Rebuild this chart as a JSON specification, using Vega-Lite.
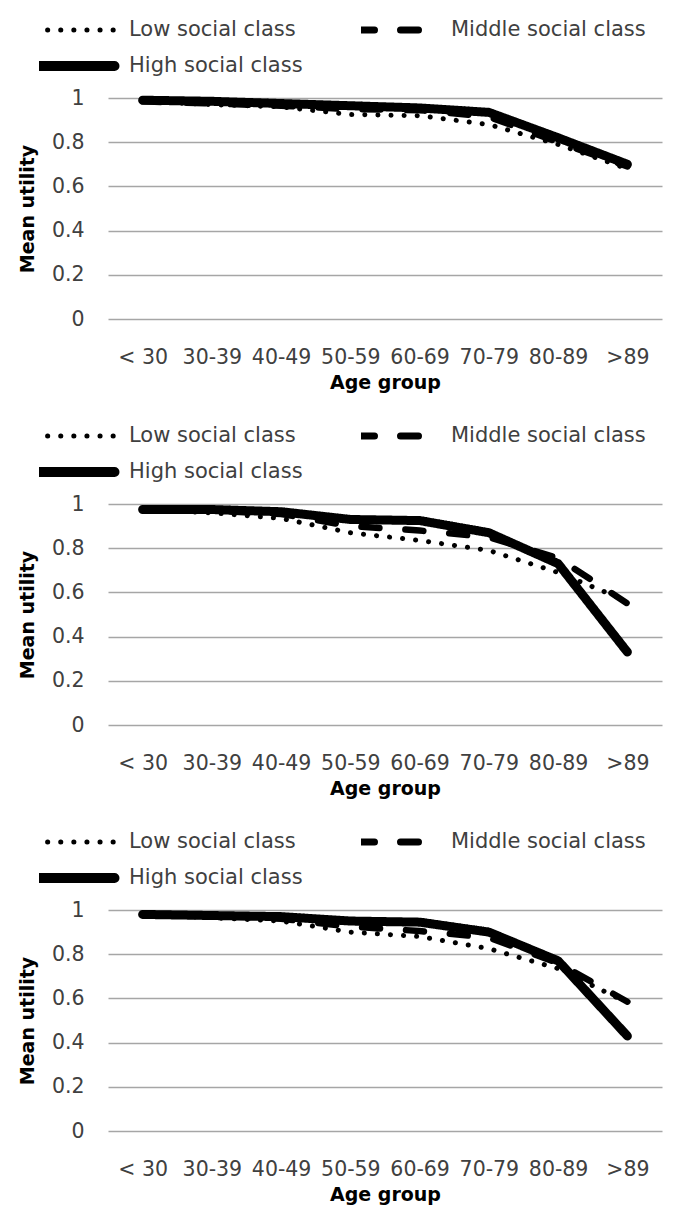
{
  "$schema": "https://vega.github.io/schema/vega-lite/v6.json",
  "padding": {"left": 18, "top": 18, "right": 5, "bottom": 5},
  "background": "white",
  "datasets": {
    "p1": [
      {"age": "< 30", "class": "Low social class", "utility": 0.985},
      {"age": "30-39", "class": "Low social class", "utility": 0.97},
      {"age": "40-49", "class": "Low social class", "utility": 0.96},
      {"age": "50-59", "class": "Low social class", "utility": 0.925},
      {"age": "60-69", "class": "Low social class", "utility": 0.92},
      {"age": "70-79", "class": "Low social class", "utility": 0.88},
      {"age": "80-89", "class": "Low social class", "utility": 0.79},
      {"age": ">89", "class": "Low social class", "utility": 0.68},
      {"age": "< 30", "class": "Middle social class", "utility": 0.985},
      {"age": "30-39", "class": "Middle social class", "utility": 0.975},
      {"age": "40-49", "class": "Middle social class", "utility": 0.965},
      {"age": "50-59", "class": "Middle social class", "utility": 0.95},
      {"age": "60-69", "class": "Middle social class", "utility": 0.945},
      {"age": "70-79", "class": "Middle social class", "utility": 0.915},
      {"age": "80-89", "class": "Middle social class", "utility": 0.8},
      {"age": ">89", "class": "Middle social class", "utility": 0.69},
      {"age": "< 30", "class": "High social class", "utility": 0.99},
      {"age": "30-39", "class": "High social class", "utility": 0.985},
      {"age": "40-49", "class": "High social class", "utility": 0.975},
      {"age": "50-59", "class": "High social class", "utility": 0.965},
      {"age": "60-69", "class": "High social class", "utility": 0.955},
      {"age": "70-79", "class": "High social class", "utility": 0.935},
      {"age": "80-89", "class": "High social class", "utility": 0.82},
      {"age": ">89", "class": "High social class", "utility": 0.7}
    ],
    "p2": [
      {"age": "< 30", "class": "Low social class", "utility": 0.975},
      {"age": "30-39", "class": "Low social class", "utility": 0.96},
      {"age": "40-49", "class": "Low social class", "utility": 0.935},
      {"age": "50-59", "class": "Low social class", "utility": 0.87},
      {"age": "60-69", "class": "Low social class", "utility": 0.835},
      {"age": "70-79", "class": "Low social class", "utility": 0.79},
      {"age": "80-89", "class": "Low social class", "utility": 0.69},
      {"age": ">89", "class": "Low social class", "utility": 0.56},
      {"age": "< 30", "class": "Middle social class", "utility": 0.975},
      {"age": "30-39", "class": "Middle social class", "utility": 0.97},
      {"age": "40-49", "class": "Middle social class", "utility": 0.955},
      {"age": "50-59", "class": "Middle social class", "utility": 0.9},
      {"age": "60-69", "class": "Middle social class", "utility": 0.88},
      {"age": "70-79", "class": "Middle social class", "utility": 0.85},
      {"age": "80-89", "class": "Middle social class", "utility": 0.755},
      {"age": ">89", "class": "Middle social class", "utility": 0.55},
      {"age": "< 30", "class": "High social class", "utility": 0.975},
      {"age": "30-39", "class": "High social class", "utility": 0.975},
      {"age": "40-49", "class": "High social class", "utility": 0.965},
      {"age": "50-59", "class": "High social class", "utility": 0.93},
      {"age": "60-69", "class": "High social class", "utility": 0.925},
      {"age": "70-79", "class": "High social class", "utility": 0.87},
      {"age": "80-89", "class": "High social class", "utility": 0.73},
      {"age": ">89", "class": "High social class", "utility": 0.33}
    ],
    "p3": [
      {"age": "< 30", "class": "Low social class", "utility": 0.98},
      {"age": "30-39", "class": "Low social class", "utility": 0.965},
      {"age": "40-49", "class": "Low social class", "utility": 0.95},
      {"age": "50-59", "class": "Low social class", "utility": 0.9},
      {"age": "60-69", "class": "Low social class", "utility": 0.88},
      {"age": "70-79", "class": "Low social class", "utility": 0.825},
      {"age": "80-89", "class": "Low social class", "utility": 0.735},
      {"age": ">89", "class": "Low social class", "utility": 0.58},
      {"age": "< 30", "class": "Middle social class", "utility": 0.98},
      {"age": "30-39", "class": "Middle social class", "utility": 0.975},
      {"age": "40-49", "class": "Middle social class", "utility": 0.96},
      {"age": "50-59", "class": "Middle social class", "utility": 0.925},
      {"age": "60-69", "class": "Middle social class", "utility": 0.905},
      {"age": "70-79", "class": "Middle social class", "utility": 0.875},
      {"age": "80-89", "class": "Middle social class", "utility": 0.76},
      {"age": ">89", "class": "Middle social class", "utility": 0.585},
      {"age": "< 30", "class": "High social class", "utility": 0.98},
      {"age": "30-39", "class": "High social class", "utility": 0.975},
      {"age": "40-49", "class": "High social class", "utility": 0.97},
      {"age": "50-59", "class": "High social class", "utility": 0.95},
      {"age": "60-69", "class": "High social class", "utility": 0.945},
      {"age": "70-79", "class": "High social class", "utility": 0.9},
      {"age": "80-89", "class": "High social class", "utility": 0.77},
      {"age": ">89", "class": "High social class", "utility": 0.43}
    ]
  },
  "spacing": 31,
  "vconcat": [
    {
      "width": 554, "height": 221,
      "data": {"name": "p1"},
      "mark": {"type": "line", "color": "black", "strokeCap": "round", "strokeJoin": "round"},
      "encoding": {
        "x": {"field": "age", "type": "ordinal", "sort": ["< 30", "30-39", "40-49", "50-59", "60-69", "70-79", "80-89", ">89"], "scale": {"type": "point", "padding": 0.5}, "axis": {"title": "Age group", "labelAngle": 0, "labelPadding": 28, "titlePadding": 6, "grid": false}},
        "y": {"field": "utility", "type": "quantitative", "scale": {"domain": [0, 1], "nice": false, "zero": true}, "axis": {"title": "Mean utility", "values": [0, 0.2, 0.4, 0.6, 0.8, 1], "format": "~g", "labelPadding": 24, "titlePadding": 14}},
        "strokeDash": {"field": "class", "type": "nominal", "scale": {"domain": ["Low social class", "Middle social class", "High social class"], "range": [[0.1, 13], [18, 26], [1, 0]]},
          "legend": {"title": null, "orient": "none", "legendX": -69, "legendY": -80, "columns": 2, "values": ["Low social class", "High social class", "Middle social class"],
            "encode": {"symbols": {"update": {"strokeCap": {"value": "round"}, "strokeWidth": {"signal": "datum.value === 'High social class' ? 10 : datum.value === 'Middle social class' ? 7 : 5"}}}}}},
        "strokeWidth": {"condition": [{"test": "datum['class'] === 'High social class'", "value": 9}, {"test": "datum['class'] === 'Middle social class'", "value": 6.5}], "value": 5}
      }
    },
    {
      "width": 554, "height": 221,
      "data": {"name": "p2"},
      "mark": {"type": "line", "color": "black", "strokeCap": "round", "strokeJoin": "round"},
      "encoding": {
        "x": {"field": "age", "type": "ordinal", "sort": ["< 30", "30-39", "40-49", "50-59", "60-69", "70-79", "80-89", ">89"], "scale": {"type": "point", "padding": 0.5}, "axis": {"title": "Age group", "labelAngle": 0, "labelPadding": 28, "titlePadding": 6, "grid": false}},
        "y": {"field": "utility", "type": "quantitative", "scale": {"domain": [0, 1], "nice": false, "zero": true}, "axis": {"title": "Mean utility", "values": [0, 0.2, 0.4, 0.6, 0.8, 1], "format": "~g", "labelPadding": 24, "titlePadding": 14}},
        "strokeDash": {"field": "class", "type": "nominal", "scale": {"domain": ["Low social class", "Middle social class", "High social class"], "range": [[0.1, 13], [18, 26], [1, 0]]},
          "legend": {"title": null, "orient": "none", "legendX": -69, "legendY": -80, "columns": 2, "values": ["Low social class", "High social class", "Middle social class"],
            "encode": {"symbols": {"update": {"strokeCap": {"value": "round"}, "strokeWidth": {"signal": "datum.value === 'High social class' ? 10 : datum.value === 'Middle social class' ? 7 : 5"}}}}}},
        "strokeWidth": {"condition": [{"test": "datum['class'] === 'High social class'", "value": 9}, {"test": "datum['class'] === 'Middle social class'", "value": 6.5}], "value": 5}
      }
    },
    {
      "width": 554, "height": 221,
      "data": {"name": "p3"},
      "mark": {"type": "line", "color": "black", "strokeCap": "round", "strokeJoin": "round"},
      "encoding": {
        "x": {"field": "age", "type": "ordinal", "sort": ["< 30", "30-39", "40-49", "50-59", "60-69", "70-79", "80-89", ">89"], "scale": {"type": "point", "padding": 0.5}, "axis": {"title": "Age group", "labelAngle": 0, "labelPadding": 28, "titlePadding": 6, "grid": false}},
        "y": {"field": "utility", "type": "quantitative", "scale": {"domain": [0, 1], "nice": false, "zero": true}, "axis": {"title": "Mean utility", "values": [0, 0.2, 0.4, 0.6, 0.8, 1], "format": "~g", "labelPadding": 24, "titlePadding": 14}},
        "strokeDash": {"field": "class", "type": "nominal", "scale": {"domain": ["Low social class", "Middle social class", "High social class"], "range": [[0.1, 13], [18, 26], [1, 0]]},
          "legend": {"title": null, "orient": "none", "legendX": -69, "legendY": -80, "columns": 2, "values": ["Low social class", "High social class", "Middle social class"],
            "encode": {"symbols": {"update": {"strokeCap": {"value": "round"}, "strokeWidth": {"signal": "datum.value === 'High social class' ? 10 : datum.value === 'Middle social class' ? 7 : 5"}}}}}},
        "strokeWidth": {"condition": [{"test": "datum['class'] === 'High social class'", "value": 9}, {"test": "datum['class'] === 'Middle social class'", "value": 6.5}], "value": 5}
      }
    }
  ],
  "resolve": {"scale": {"strokeDash": "independent"}, "legend": {"strokeDash": "independent"}},
  "config": {
    "view": {"stroke": null},
    "axis": {"labelFont": "DejaVu Sans", "labelFontSize": 20.5, "labelColor": "#404040", "titleFont": "DejaVu Sans", "titleFontSize": 19, "titleFontWeight": "bold", "titleColor": "black", "ticks": false, "domain": false, "gridColor": "#a6a6a6", "gridWidth": 1.5},
    "legend": {"symbolType": "stroke", "symbolSize": 6400, "symbolStrokeColor": "black", "symbolStrokeWidth": 1.5, "symbolOffset": 25, "clipHeight": 24, "rowPadding": 12, "columnPadding": 58, "labelFont": "DejaVu Sans", "labelFontSize": 21, "labelColor": "#404040", "labelOffset": 44, "labelLimit": 400, "padding": 0}
  }
}
